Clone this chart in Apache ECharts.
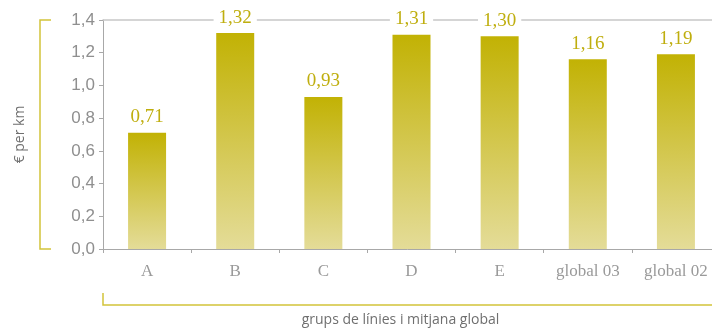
<!DOCTYPE html>
<html>
<head>
<meta charset="utf-8">
<script src="https://cdn.jsdelivr.net/npm/echarts@6/dist/echarts.min.js"></script>
<style>
  html, body { margin: 0; padding: 0; background: #fff; }
  #chart { width: 712px; height: 333px; }
</style>
</head>
<body>
<div id="chart"></div>
<script>
const categories = ['A', 'B', 'C', 'D', 'E', 'global 03', 'global 02']
const costPerKm = [0.71, 1.32, 0.93, 1.31, 1.30, 1.16, 1.19]
const yTicks = { min: 0, max: 1.4, interval: 0.2 }

const gray = '#8f8f8f'
const olive = '#bfae0e'
const bracket = '#d2c33a'

const chart = echarts.init(document.getElementById('chart'))

const comma = (v, d) => v.toFixed(d).replace('.', ',')

chart.setOption({
  animation: false,
  grid: { left: 103, right: -8, top: 20, bottom: 84, outerBoundsMode: 'none', containLabel: false },
  xAxis: [{
    type: 'category',
    data: categories,
    axisLine: { lineStyle: { color: '#a8a8a8', width: 1 } },
    axisTick: { show: true, length: 4, lineStyle: { color: '#a8a8a8' } },
    axisLabel: {
      margin: 14,
      color: '#9a9a9a',
      fontFamily: 'Liberation Serif',
      fontSize: 17
    },
    name: 'grups de línies i mitjana global',
    nameLocation: 'middle',
    nameGap: 64,
    nameTextStyle: {
      color: '#6f6f6f',
      fontFamily: 'Open Sans',
      fontSize: 14,
      padding: [0, 22, 0, 0]
    }
  }, {
    type: 'category',
    position: 'top',
    data: categories,
    axisLine: { lineStyle: { color: '#c8c8c8', width: 1.5 } },
    axisTick: { show: false },
    axisLabel: { show: false }
  }],
  yAxis: {
    type: 'value',
    min: yTicks.min,
    max: yTicks.max,
    interval: yTicks.interval,
    axisLine: { show: true, lineStyle: { color: '#a8a8a8' } },
    axisTick: { show: true, length: 4, lineStyle: { color: '#a8a8a8' } },
    splitLine: { show: false },
    axisLabel: {
      margin: 8,
      color: gray,
      fontFamily: 'Liberation Sans',
      fontSize: 17,
      formatter: v => comma(v, 1)
    },
    name: '€ per km',
    nameLocation: 'middle',
    nameGap: 76,
    nameRotate: 90,
    nameTextStyle: { color: '#6f6f6f', fontFamily: 'Open Sans', fontSize: 14 }
  },
  series: [{
    type: 'bar',
    data: costPerKm,
    barWidth: 38,
    itemStyle: {
      color: new echarts.graphic.LinearGradient(0, 0, 0, 1, [
        { offset: 0, color: '#c2b204' },
        { offset: 1, color: '#e4dc98' }
      ])
    },
    label: {
      show: true,
      position: 'top',
      distance: 6,
      color: olive,
      fontFamily: 'Liberation Serif',
      fontSize: 19,
      backgroundColor: '#fff',
      padding: [0, 5],
      formatter: p => comma(p.value, 2)
    }
  }],
  graphic: [
    { type: 'polyline', shape: { points: [[51, 20], [40, 20], [40, 249], [51, 249]] },
      style: { stroke: bracket, lineWidth: 1.5, fill: null } },
    { type: 'polyline', shape: { points: [[103, 293], [103, 305], [712, 305]] },
      style: { stroke: bracket, lineWidth: 1.5, fill: null } }
  ]
})

window.addEventListener('resize', () => chart.resize())
</script>
</body>
</html>
